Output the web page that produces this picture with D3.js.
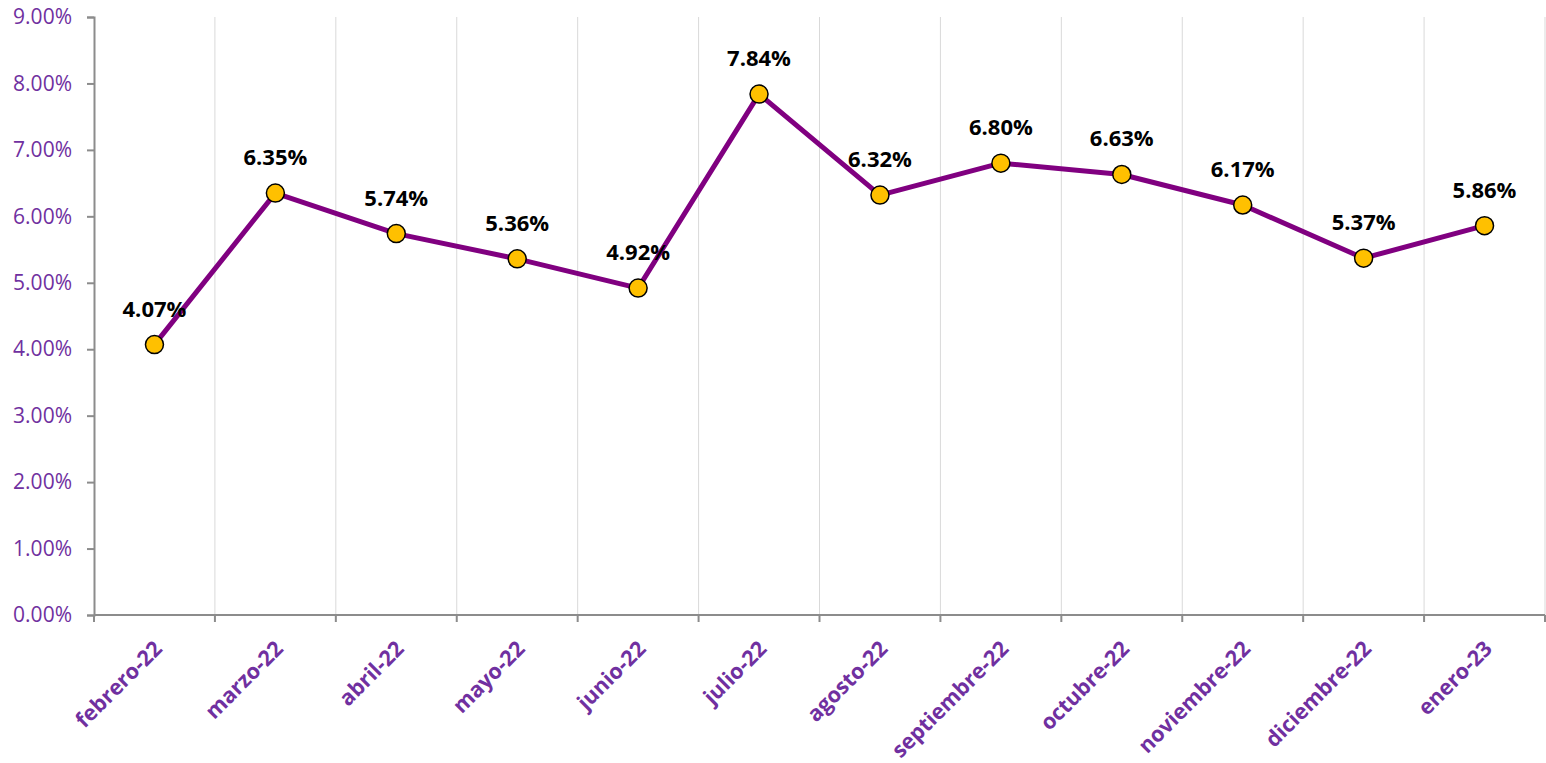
<!DOCTYPE html>
<html>
<head>
<meta charset="utf-8">
<script src="https://cdn.jsdelivr.net/npm/d3@7"></script>
<style>
  body { margin: 0; background: #fff; }
  svg { display: block; }
</style>
</head>
<body>
<svg id="chart" width="1546" height="763"></svg>
<script>
// data
const months = ["febrero-22", "marzo-22", "abril-22", "mayo-22", "junio-22", "julio-22",
  "agosto-22", "septiembre-22", "octubre-22", "noviembre-22", "diciembre-22", "enero-23"];
const rates = [4.07, 6.35, 5.74, 5.36, 4.92, 7.84, 6.32, 6.80, 6.63, 6.17, 5.37, 5.86];
const yTicks = [0, 1, 2, 3, 4, 5, 6, 7, 8, 9];

const margin = { top: 17, right: 1, bottom: 148, left: 94 };
const width = 1546 - margin.left - margin.right;
const height = 763 - margin.top - margin.bottom;
const font = "'Open Sans', sans-serif";
const purple = "#7030A0";

const svg = d3.select("#chart")
  .append("g")
  .attr("transform", `translate(${margin.left},${margin.top})`);

const x = d3.scaleBand().domain(months).range([0, width]);
const y = d3.scaleLinear().domain([0, 9]).range([height, 0]);

// vertical grid at category boundaries
svg.selectAll(".vgrid")
  .data(months.slice(1))
  .join("line")
  .attr("x1", d => x(d)).attr("x2", d => x(d))
  .attr("y1", 0).attr("y2", height)
  .attr("stroke", "#d9d9d9").attr("stroke-width", 1);
svg.append("line")
  .attr("x1", width).attr("x2", width).attr("y1", 0).attr("y2", height)
  .attr("stroke", "#d9d9d9");

// y axis
const yAxis = svg.append("g")
  .call(d3.axisLeft(y).tickValues(yTicks).tickSize(7).tickPadding(15)
    .tickFormat(d => d.toFixed(2) + "%"));
yAxis.select(".domain").attr("stroke", "#8c8c8c").attr("stroke-width", 2);
yAxis.selectAll(".tick line").attr("stroke", "#8c8c8c").attr("stroke-width", 2);
yAxis.selectAll("text").attr("fill", purple).style("font-size", "21px").style("font-family", font);

// x axis with ticks at boundaries
const xAxis = svg.append("g").attr("transform", `translate(0,${height})`);
xAxis.append("line").attr("x1", 0).attr("x2", width).attr("stroke", "#8c8c8c").attr("stroke-width", 2);
xAxis.selectAll(".xtick")
  .data(months.concat(["end"]))
  .join("line")
  .attr("x1", (d, i) => i * x.step()).attr("x2", (d, i) => i * x.step())
  .attr("y1", 0).attr("y2", 7)
  .attr("stroke", "#8c8c8c").attr("stroke-width", 2);
xAxis.selectAll(".xlabel")
  .data(months)
  .join("text")
  .attr("transform", d => `translate(${x(d) + x.bandwidth() / 2 + 9},${35}) rotate(-45)`)
  .attr("text-anchor", "end")
  .attr("fill", purple)
  .style("font-size", "21.5px")
  .style("font-weight", "bold")
  .style("font-family", font)
  .text(d => d);

// line
const line = d3.line()
  .x((d, i) => x(months[i]) + x.bandwidth() / 2)
  .y(d => y(d));
svg.append("path")
  .datum(rates)
  .attr("fill", "none")
  .attr("stroke", "#800080")
  .attr("stroke-width", 5)
  .attr("stroke-linejoin", "round")
  .attr("d", line);

// markers
svg.selectAll(".pt")
  .data(rates)
  .join("circle")
  .attr("cx", (d, i) => x(months[i]) + x.bandwidth() / 2)
  .attr("cy", d => y(d))
  .attr("r", 9)
  .attr("fill", "#FFC000")
  .attr("stroke", "#000")
  .attr("stroke-width", 1.5);

// data labels
svg.selectAll(".lbl")
  .data(rates)
  .join("text")
  .attr("x", (d, i) => x(months[i]) + x.bandwidth() / 2)
  .attr("y", d => y(d) - 28)
  .attr("text-anchor", "middle")
  .attr("fill", "#000")
  .style("font-size", "22px")
  .style("font-weight", "bold")
  .style("font-family", font)
  .text(d => d.toFixed(2) + "%");
</script>
</body>
</html>
